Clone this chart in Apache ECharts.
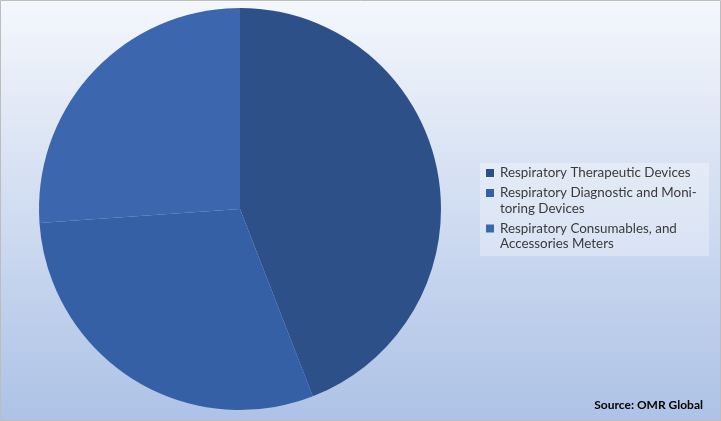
<!DOCTYPE html>
<html>
<head>
<meta charset="utf-8">
<script src="https://cdn.jsdelivr.net/npm/echarts@6/dist/echarts.min.js"></script>
<style>
html,body{margin:0;padding:0;}
#chart{width:721px;height:421px;}
</style>
</head>
<body>
<div id="chart"></div>
<script>
const categories = [
  'Respiratory Therapeutic Devices',
  'Respiratory Diagnostic and Monitoring Devices',
  'Respiratory Consumables, and Accessories Meters'
];
const legendLines = [
  ['Respiratory Therapeutic Devices'],
  ['Respiratory Diagnostic and Moni-', 'toring Devices'],
  ['Respiratory Consumables, and', 'Accessories Meters']
];
const values = [44.1, 29.8, 26.1];
const colors = ['#2E5088', '#3560A5', '#3C66AE'];
const sourceText = 'Source: OMR Global';

const chart = echarts.init(document.getElementById('chart'), null, {renderer: 'canvas'});

const fontFam = 'Lato, "Open Sans", sans-serif';
const legendGraphics = [];
let y = 173;
const lineH = 15.5;
const groupGap = 4.5;
legendLines.forEach((lines, i) => {
  legendGraphics.push({
    type: 'rect',
    shape: {x: 486, y: y - 4, width: 8, height: 8},
    style: {fill: colors[i]},
    z: 10
  });
  legendGraphics.push({
    type: 'text',
    x: 500, y: y - lineH / 2,
    style: {
      text: lines.join('\n'),
      fill: '#3A3A3A',
      font: '13.4px ' + fontFam,
      lineHeight: lineH,
      verticalAlign: 'top'
    },
    z: 10
  });
  y += lines.length * lineH + groupGap;
});

const option = {
  backgroundColor: {
    type: 'linear', x: 0, y: 0, x2: 0, y2: 1,
    colorStops: [
      {offset: 0, color: '#F4F7FC'},
      {offset: 1, color: '#ADC2E6'}
    ]
  },
  animation: false,
  series: [{
    type: 'pie',
    center: [240, 209],
    radius: 201,
    startAngle: 90,
    clockwise: true,
    label: {show: false},
    labelLine: {show: false},
    itemStyle: {borderWidth: 0},
    emphasis: {disabled: true},
    data: categories.map((c, i) => ({name: c, value: values[i], itemStyle: {color: colors[i]}}))
  }],
  graphic: [
    {
      type: 'rect',
      shape: {x: 480, y: 163, width: 229, height: 93},
      style: {fill: 'rgba(255,255,255,0.3)'},
      z: 5
    },
    ...legendGraphics,
    {
      type: 'text',
      right: 18, bottom: 10,
      style: {
        text: sourceText,
        fill: '#000000',
        font: 'bold 12px ' + fontFam
      },
      z: 10
    },
    {
      type: 'rect',
      shape: {x: 0.5, y: 0.5, width: 720, height: 420},
      style: {fill: 'none', stroke: '#BDBDBD', lineWidth: 1},
      z: 20
    }
  ]
};
chart.setOption(option);
</script>
</body>
</html>
